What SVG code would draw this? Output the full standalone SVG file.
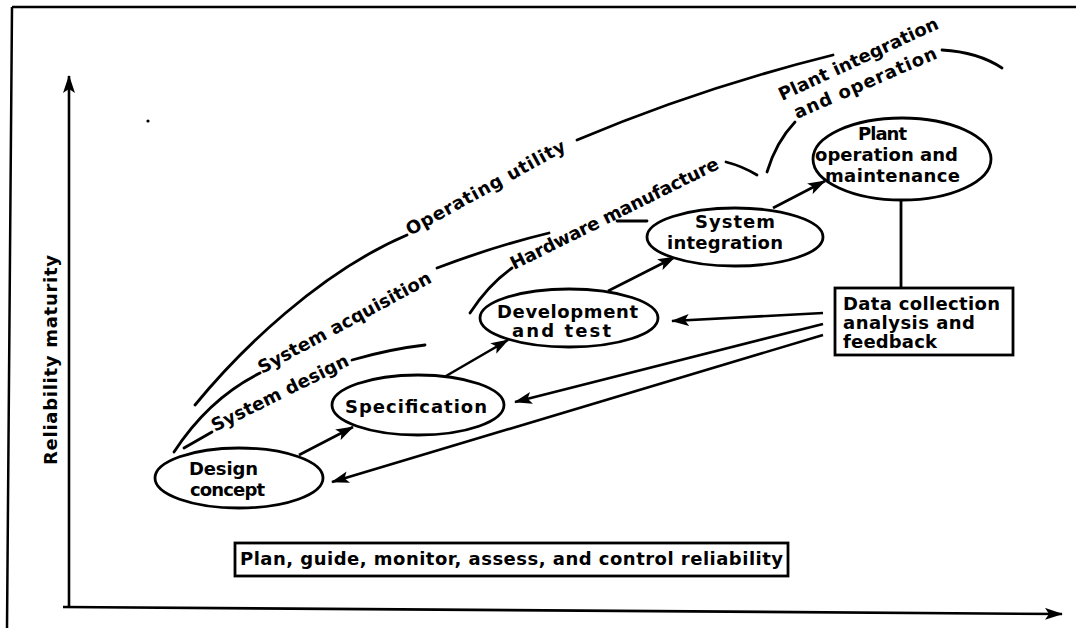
<svg xmlns="http://www.w3.org/2000/svg" width="1076" height="628" viewBox="0 0 1076 628">
<style>
text{font-family:"DejaVu Sans","Liberation Sans",sans-serif;font-weight:bold;font-size:18px;fill:#000}
.n{fill:#fff;stroke:#000;stroke-width:2.8}
.c{fill:none;stroke:#000;stroke-width:2.8;stroke-linecap:round}
.a{fill:none;stroke:#000;stroke-width:2.6;marker-end:url(#ah)}
.frame{fill:none;stroke:#000;stroke-width:2.5}
</style>
<defs>
<marker id="ah" markerUnits="userSpaceOnUse" markerWidth="18" markerHeight="12" viewBox="0 0 18 12" refX="17" refY="6" orient="auto">
<path d="M0,0 L18,6 L0,12 L4,6 Z" fill="#000"/>
</marker>
</defs>
<rect width="1076" height="628" fill="#fff"/>
<g id="frame">
<path class="frame" d="M12,7 L1076,7 M12,7 L7,628"/>
<circle cx="148" cy="121" r="1.6" fill="#000"/>
</g>
<g id="axes">
<path class="a" d="M69,607 L69,76"/>
<path class="a" d="M63,607 L1062,614"/>
<text transform="translate(57,465) rotate(-90)" textLength="210" lengthAdjust="spacing" font-size="16">Reliability  maturity</text>
</g>
<g id="phases">
<path class="c" d="M195,405 C240,350 320,272 407,235"/>
<text transform="translate(410,236) rotate(-28.7)" textLength="179" lengthAdjust="spacing">Operating utility</text>
<path class="c" d="M577,140 Q700,88 833,55"/>
<path class="c" d="M174,452 C200,412 230,388 260,373"/>
<text transform="translate(262,374) rotate(-28.3)" textLength="194" lengthAdjust="spacing">System acquisition</text>
<path class="c" d="M437,268 Q495,246 549,233"/>
<path class="c" d="M184,448 L212,432"/>
<text transform="translate(215,432) rotate(-26.4)" textLength="151" lengthAdjust="spacing">System design</text>
<path class="c" d="M352,360 Q390,349 425,345"/>
<path class="c" d="M470,313 Q488,285 512,268"/>
<text transform="translate(514,270) rotate(-26.3)" textLength="230" lengthAdjust="spacing">Hardware manufacture</text>
<path class="c" d="M617,221 L647,221"/>
<path class="c" d="M726,162 Q742,166 757,175"/>
<path class="c" d="M767,172 Q776,142 795,122"/>
<text transform="translate(782,101) rotate(-24.8)" textLength="174" lengthAdjust="spacing">Plant integration</text>
<text transform="translate(797,119) rotate(-23.4)" textLength="154" lengthAdjust="spacing">and operation</text>
<path class="c" d="M942,50 Q978,52 1002,68"/>
</g>
<g id="connectors">
<path class="a" d="M299,455 L353,427"/>
<path class="a" d="M446,376 L508,340"/>
<path class="a" d="M608,291 L675,257"/>
<path class="a" d="M773,208 L825,181"/>
<path class="c" d="M901,200 L901,288"/>
<path class="a" d="M823,313 L672,321"/>
<path class="a" d="M823,324 L515,402"/>
<path class="a" d="M823,335 L332,482"/>
</g>
<g id="design-concept">
<ellipse class="n" cx="239" cy="478" rx="84" ry="30"/>
<text x="189" y="475" textLength="69" lengthAdjust="spacing">Design</text>
<text x="190" y="496" textLength="75" lengthAdjust="spacing">concept</text>
</g>
<g id="specification">
<ellipse class="n" cx="418" cy="405" rx="86" ry="30"/>
<text x="345" y="413" textLength="142" lengthAdjust="spacing">Specification</text>
</g>
<g id="development">
<ellipse class="n" cx="569" cy="318" rx="89" ry="29"/>
<text x="497" y="318" textLength="141" lengthAdjust="spacing">Development</text>
<text x="512" y="337" textLength="99" lengthAdjust="spacing">and  test</text>
</g>
<g id="system-integration">
<ellipse class="n" cx="735" cy="237" rx="88" ry="29"/>
<text x="695" y="228" textLength="80" lengthAdjust="spacing">System</text>
<text x="667" y="249" textLength="116" lengthAdjust="spacing">integration</text>
</g>
<g id="plant-operation">
<ellipse class="n" cx="902" cy="159" rx="89" ry="41"/>
<text x="858" y="140" textLength="49" lengthAdjust="spacing">Plant</text>
<text x="815" y="161" textLength="143" lengthAdjust="spacing">operation and</text>
<text x="825" y="182" textLength="135" lengthAdjust="spacing">maintenance</text>
</g>
<g id="data-collection">
<rect class="n" x="835" y="288" width="178" height="67" stroke-width="3"/>
<text x="843" y="310" textLength="157" lengthAdjust="spacing">Data collection</text>
<text x="843" y="329" textLength="132" lengthAdjust="spacing">analysis and</text>
<text x="843" y="348" textLength="94" lengthAdjust="spacing">feedback</text>
</g>
<g id="plan-box">
<rect class="n" x="235" y="543" width="553" height="33" stroke-width="3"/>
<text x="240" y="565" textLength="543" lengthAdjust="spacing">Plan, guide, monitor, assess, and control reliability</text>
</g>
</svg>
